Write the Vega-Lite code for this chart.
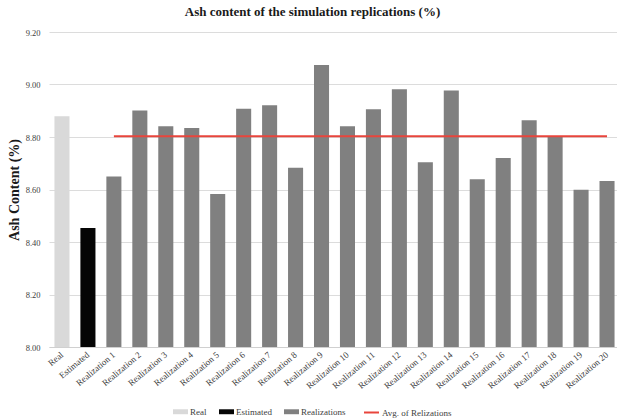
{
  "$schema": "https://vega.github.io/schema/vega-lite/v6.json",
  "autosize": "none",
  "width": 571,
  "height": 315,
  "padding": {"left": 49, "top": 32, "right": 0, "bottom": 72},
  "background": "white",
  "config": {
    "font": "Liberation Serif",
    "view": {"stroke": null}
  },
  "title": {
    "text": "Ash content of the simulation replications (%)",
    "fontSize": 13,
    "fontWeight": "bold",
    "color": "#1a1a1a",
    "offset": 9,
    "dx": -22,
    "anchor": "middle"
  },
  "datasets": {
    "bars": [
      {"category": "Real", "type": "Real", "ash": 8.879},
      {"category": "Estimated", "type": "Estimated", "ash": 8.453},
      {"category": "Realization 1", "type": "Realizations", "ash": 8.650},
      {"category": "Realization 2", "type": "Realizations", "ash": 8.901},
      {"category": "Realization 3", "type": "Realizations", "ash": 8.841},
      {"category": "Realization 4", "type": "Realizations", "ash": 8.834},
      {"category": "Realization 5", "type": "Realizations", "ash": 8.583},
      {"category": "Realization 6", "type": "Realizations", "ash": 8.908},
      {"category": "Realization 7", "type": "Realizations", "ash": 8.921},
      {"category": "Realization 8", "type": "Realizations", "ash": 8.683},
      {"category": "Realization 9", "type": "Realizations", "ash": 9.074},
      {"category": "Realization 10", "type": "Realizations", "ash": 8.841},
      {"category": "Realization 11", "type": "Realizations", "ash": 8.906},
      {"category": "Realization 12", "type": "Realizations", "ash": 8.982},
      {"category": "Realization 13", "type": "Realizations", "ash": 8.704},
      {"category": "Realization 14", "type": "Realizations", "ash": 8.977},
      {"category": "Realization 15", "type": "Realizations", "ash": 8.639},
      {"category": "Realization 16", "type": "Realizations", "ash": 8.720},
      {"category": "Realization 17", "type": "Realizations", "ash": 8.864},
      {"category": "Realization 18", "type": "Realizations", "ash": 8.803},
      {"category": "Realization 19", "type": "Realizations", "ash": 8.599},
      {"category": "Realization 20", "type": "Realizations", "ash": 8.632}
    ],
    "avg": [
      {"category": "Realization 1", "series": "Avg. of Relizations", "ash": 8.803},
      {"category": "Realization 20", "series": "Avg. of Relizations", "ash": 8.803}
    ]
  },
  "encoding": {
    "x": {
      "field": "category",
      "type": "nominal",
      "sort": null,
      "scale": {
        "domain": ["Real", "Estimated", "Realization 1", "Realization 2", "Realization 3", "Realization 4", "Realization 5", "Realization 6", "Realization 7", "Realization 8", "Realization 9", "Realization 10", "Realization 11", "Realization 12", "Realization 13", "Realization 14", "Realization 15", "Realization 16", "Realization 17", "Realization 18", "Realization 19", "Realization 20"],
        "paddingInner": 0.42,
        "paddingOuter": 0.21
      },
      "axis": {
        "title": null,
        "labelAngle": -40,
        "labelAlign": "right",
        "labelBaseline": "middle",
        "labelFontSize": 9,
        "labelColor": "#404040",
        "labelPadding": 6,
        "ticks": false,
        "domainColor": "#d0d0d0",
        "grid": false
      }
    },
    "y": {
      "field": "ash",
      "type": "quantitative",
      "scale": {"domain": [8.0, 9.2], "zero": false, "nice": false},
      "axis": {
        "title": "Ash Content (%)",
        "titleFontSize": 14,
        "titleFontWeight": "bold",
        "titleColor": "#1a1a1a",
        "titlePadding": 4,
        "values": [8.0, 8.2, 8.4, 8.6, 8.8, 9.0, 9.2],
        "format": ".2f",
        "labelFontSize": 8.5,
        "labelColor": "#404040",
        "labelPadding": 9,
        "ticks": false,
        "domain": false,
        "grid": true,
        "gridColor": "#dcdcdc",
        "gridWidth": 1
      }
    }
  },
  "layer": [
    {
      "data": {"name": "bars"},
      "mark": {"type": "bar"},
      "encoding": {
        "y2": {"datum": 8.0},
        "fill": {
          "field": "type",
          "type": "nominal",
          "scale": {"domain": ["Real", "Estimated", "Realizations"], "range": ["#d9d9d9", "#050505", "#808080"]},
          "legend": {
            "title": null,
            "orient": "none",
            "direction": "horizontal",
            "legendX": 124,
            "legendY": 372,
            "symbolType": "M-1,-0.33H1V0.33H-1Z",
            "symbolSize": 225,
            "symbolStrokeWidth": 0,
            "labelFontSize": 9,
            "labelColor": "#404040",
            "labelOffset": 2,
            "columnPadding": 12
          }
        }
      }
    },
    {
      "data": {"name": "avg"},
      "mark": {"type": "line", "strokeWidth": 2},
      "encoding": {
        "stroke": {
          "field": "series",
          "type": "nominal",
          "scale": {"domain": ["Avg. of Relizations"], "range": ["#e8453c"]},
          "legend": {
            "title": null,
            "orient": "none",
            "direction": "horizontal",
            "legendX": 314,
            "legendY": 372,
            "symbolType": "stroke",
            "symbolSize": 225,
            "symbolStrokeWidth": 2,
            "labelFontSize": 9,
            "labelColor": "#404040",
            "labelOffset": 2
          }
        }
      }
    }
  ]
}
